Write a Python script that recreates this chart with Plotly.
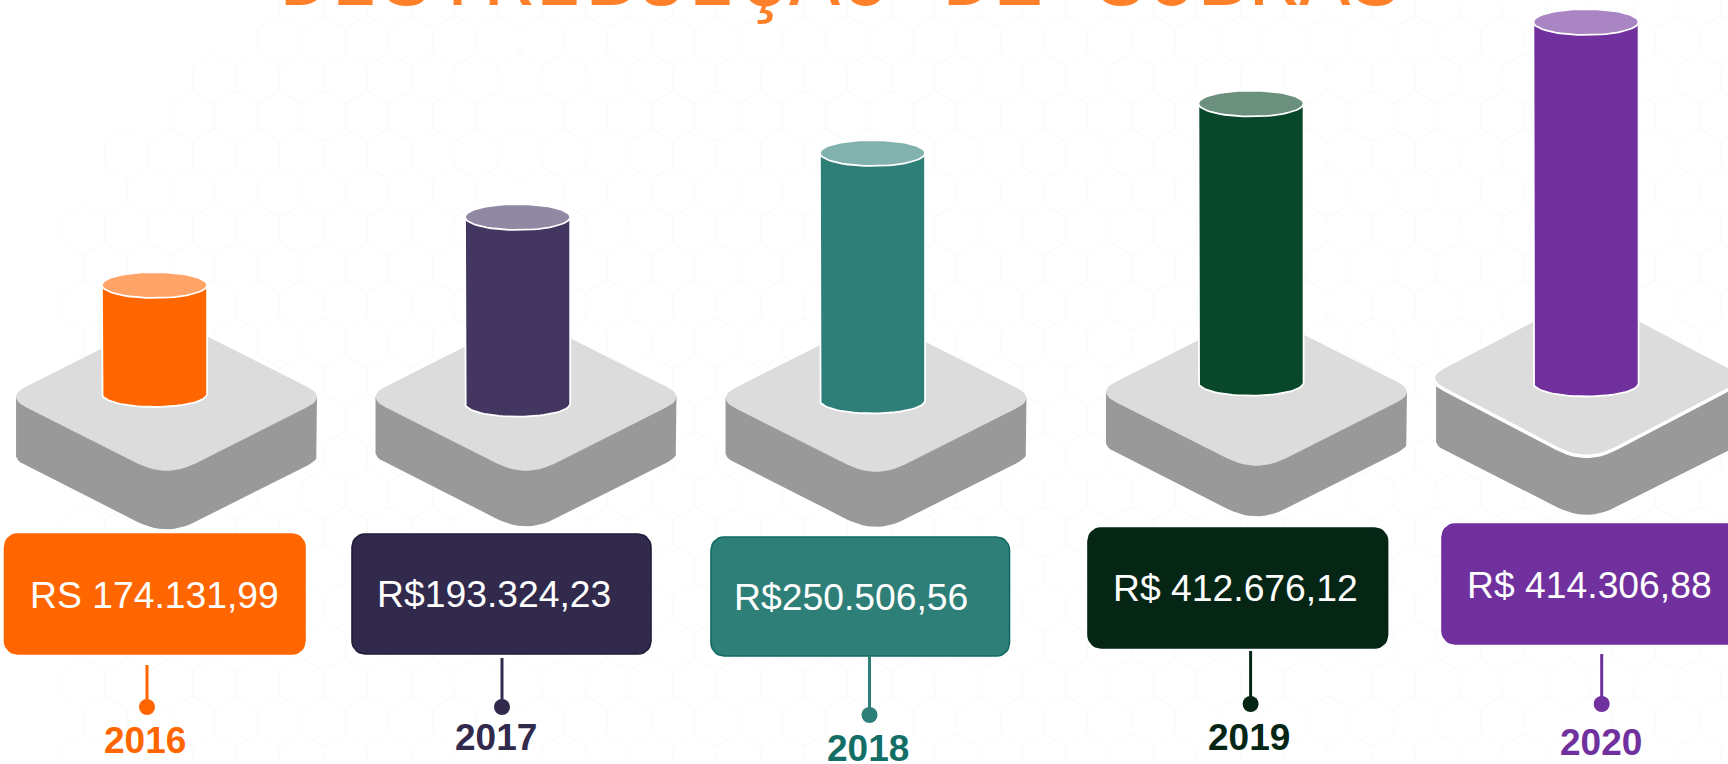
import numpy as np
import plotly.graph_objects as go

# ---- content
title = "DISTRIBUIÇÃO DE SOBRAS"
years = ["2016", "2017", "2018", "2019", "2020"]
value_labels = ["RS 174.131,99", "R$193.324,23", "R$250.506,56", "R$ 412.676,12", "R$ 414.306,88"]
# cylinder extent, on the chart's own 0-764 vertical scale
cylinder_top = [285, 217, 153, 103.5, 22]
cylinder_bottom = [407, 416.7, 413.5, 395.7, 396.5]

# ---- layout of each column
cylinder_x = [154.5, 517.6, 872.5, 1251, 1586]
platform_x = [166.5, 526, 876, 1256.5, 1586.5]
platform_y = [397, 397, 398, 392, 378]
side_y = [397, 397, 398, 392, 386]
face_h = [81, 81, 81, 81, 86]
face_w = [161, 161, 161, 161, 164]
platform_depth = [58.5, 55.5, 55, 50.5, 55]
box_x0 = [4.5, 352, 711, 1088, 1442]
box_x1 = [305, 651, 1009.5, 1387.6, 1742]
box_y0 = [534, 534, 537, 528, 524]
box_y1 = [654, 654, 656, 648, 644]
text_x = [29, 376, 733, 1112, 1466]
text_y = [595, 594, 597, 588, 585]
stem_x = [147, 502, 869.5, 1250.6, 1601.7]
stem_y0 = [665, 658, 656, 651, 654]
dot_y = [707, 707, 715, 704, 704]
year_x = [144.6, 495.5, 867.5, 1249, 1601]
year_y = [740, 737, 748, 737, 742]

# ---- colours
body_col = ["#ff6600", "#433761", "#2e7f78", "#09472a", "#70309d"]
cap_col = ["#ffa366", "#9188a3", "#82b2ae", "#6b917e", "#a985c4"]
box_col = ["#ff6600", "#322a4d", "#2e7f78", "#052615", "#70309d"]
box_edge = ["#ff6600", "#221c38", "#0f6b63", "#052615", "#70309d"]
year_col = ["#ff6600", "#322a4d", "#136f66", "#052615", "#70309d"]
title_col = "#ff8029"
face_col = "#dcdcdc"
side_col = "#999999"
hex_col = "#f9fcfc"

fig = go.Figure()


def add_poly(xs, ys, fill, line="rgba(0,0,0,0)", width=0):
    fig.add_trace(go.Scatter(x=list(xs), y=list(ys), mode="lines", fill="toself",
                             fillcolor=fill, line=dict(color=line, width=width),
                             hoverinfo="skip", showlegend=False))


def quad(p0, p1, p2, n=12):
    t = np.linspace(0, 1, n)[:, None]
    return (1 - t) ** 2 * np.array(p0) + 2 * t * (1 - t) * np.array(p1) + t ** 2 * np.array(p2)


def diamond_outline(cx, cy, H=81.0, W=161.0, tx=0.13, ty=0.18):
    """Rounded diamond, clockwise starting at the right corner."""
    sharp = [(cx + W, cy), (cx, cy + H), (cx - W, cy), (cx, cy - H)]
    ts = [tx, ty, tx, ty]
    out = []
    for i in range(4):
        p = np.array(sharp[i])
        prev = np.array(sharp[i - 1])
        nxt = np.array(sharp[(i + 1) % 4])
        out.append(quad(p + (prev - p) * ts[i], p, p + (nxt - p) * ts[i]))
    return np.vstack(out)


def rounded_rect(x0, x1, y0, y1, r=13):
    a = np.linspace(0, np.pi / 2, 8)
    xs, ys = [], []
    for cx, cy, s in [(x1 - r, y0 + r, -np.pi / 2), (x1 - r, y1 - r, 0),
                      (x0 + r, y1 - r, np.pi / 2), (x0 + r, y0 + r, np.pi)]:
        xs += list(cx + r * np.cos(a + s))
        ys += list(cy + r * np.sin(a + s))
    return xs + xs[:1], ys + ys[:1]


# ---- faint honeycomb behind everything, absent in the upper-left corner
side = 25.2
dx = 43.67
dy = 37.8
hx, hy = [], []
for row in range(-1, 22):
    y_top = 28 + row * dy
    off = 258 + (dx / 2 if row % 2 else 0)
    x_min = 250 if y_top < 60 else 160 if y_top < 130 else 100 if y_top < 200 else 60
    for k in range(-7, 36):
        x = off + k * dx
        if x < x_min:
            continue
        hx += [x, x, x + dx / 2, x + dx, None]
        hy += [y_top, y_top + side, y_top + side + side / 2, y_top + side, None]
        hx += [x, x + dx / 2, x + dx, None]
        hy += [y_top, y_top - side / 2, y_top, None]
fig.add_trace(go.Scatter(x=hx, y=hy, mode="lines", line=dict(color=hex_col, width=1.2),
                         hoverinfo="skip", showlegend=False, connectgaps=False))

R_X = 52.6
R_Y = 13.0
th = np.linspace(0, np.pi, 40)

for i in range(len(years)):
    # platform side
    s_o = diamond_outline(platform_x[i], side_y[i])
    lower = s_o[6:30]  # right extreme -> bottom -> left extreme
    sx = [lower[0, 0]] + list(lower[:, 0]) + [lower[-1, 0], lower[0, 0]]
    sy = [side_y[i]] + list(lower[:, 1] + platform_depth[i]) + [side_y[i], side_y[i]]
    add_poly(sx, sy, side_col)
    # platform top face
    o = diamond_outline(platform_x[i], platform_y[i], H=face_h[i], W=face_w[i])
    if i == 4:
        add_poly(list(o[:, 0]) + [o[0, 0]], list(o[:, 1]) + [o[0, 1]], face_col, "#ffffff", 3.5)
    else:
        add_poly(list(o[:, 0]) + [o[0, 0]], list(o[:, 1]) + [o[0, 1]], face_col)
    # cylinder body
    cx = cylinder_x[i]
    yb = cylinder_bottom[i] - R_Y
    yt = cylinder_top[i]
    bx = cx + R_X * np.cos(th)
    by = yb + R_Y * np.sin(th)
    add_poly([cx - R_X] + list(bx[::-1]) + [cx + R_X, cx - R_X],
             [yt] + list(by[::-1]) + [yt, yt], body_col[i], "#ffffff", 1.8)
    # cylinder cap
    th2 = np.linspace(0, 2 * np.pi, 70)
    add_poly(cx + R_X * np.cos(th2), yt + R_Y * np.sin(th2), cap_col[i], "#ffffff", 1.8)
    # value box
    rx, ry = rounded_rect(box_x0[i], box_x1[i], box_y0[i], box_y1[i])
    add_poly(rx, ry, box_col[i], box_edge[i], 1.6)
    # stem and dot
    fig.add_trace(go.Scatter(x=[stem_x[i], stem_x[i]], y=[stem_y0[i], dot_y[i]], mode="lines",
                             line=dict(color=box_col[i], width=3),
                             hoverinfo="skip", showlegend=False))
    fig.add_trace(go.Scatter(x=[stem_x[i]], y=[dot_y[i]], mode="markers",
                             marker=dict(color=box_col[i], size=16),
                             hoverinfo="skip", showlegend=False))
    # texts
    fig.add_annotation(x=text_x[i], y=text_y[i], xref="x", yref="y", text=value_labels[i],
                       showarrow=False, xanchor="left", yanchor="middle", borderpad=0,
                       font=dict(family="Liberation Sans", size=37.3, color="#ffffff"))
    fig.add_annotation(x=year_x[i], y=year_y[i], xref="x", yref="y", text=years[i],
                       showarrow=False, xanchor="center", yanchor="middle", borderpad=0,
                       font=dict(family="Liberation Sans", size=37, color=year_col[i], weight="bold"))

fig.add_annotation(x=840, y=32, xref="x", yref="y", text=title, showarrow=False,
                   xanchor="center", yanchor="bottom", borderpad=0,
                   font=dict(family="Liberation Mono", size=85, color=title_col))

fig.update_layout(width=1728, height=764, margin=dict(l=0, r=0, t=0, b=0),
                  paper_bgcolor="#ffffff", plot_bgcolor="#ffffff", showlegend=False,
                  xaxis=dict(range=[0, 1728], visible=False, fixedrange=True),
                  yaxis=dict(range=[764, 0], visible=False, fixedrange=True))

fig.write_html("out.html", config={"displayModeBar": False},
               post_script="document.body.style.margin='0';document.body.style.overflow='hidden';")
